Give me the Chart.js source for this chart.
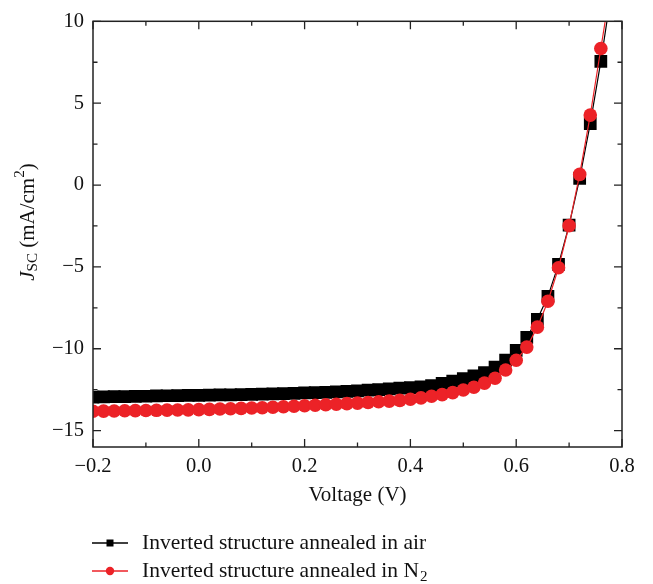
<!DOCTYPE html>
<html>
<head>
<meta charset="utf-8">
<script src="https://cdn.jsdelivr.net/npm/chart.js@4.4.0/dist/chart.umd.min.js"></script>
<style>
    body { margin: 0; background: #fff; }
    #wrap { width: 653px; height: 584px; position: relative; }
</style>
</head>
<body>
<div id="wrap"><canvas id="myChart"></canvas></div>
<script>
// voltage (V)
var voltage = [-0.20, -0.18, -0.16, -0.14, -0.12, -0.10, -0.08, -0.06, -0.04, -0.02,
    0.00, 0.02, 0.04, 0.06, 0.08, 0.10, 0.12, 0.14, 0.16, 0.18,
    0.20, 0.22, 0.24, 0.26, 0.28, 0.30, 0.32, 0.34, 0.36, 0.38,
    0.40, 0.42, 0.44, 0.46, 0.48, 0.50, 0.52, 0.54, 0.56, 0.58,
    0.60, 0.62, 0.64, 0.66, 0.68, 0.70, 0.72, 0.74, 0.76, 0.78];

// Jsc (mA/cm2), annealed in air
var jscAir = [-12.95, -12.94, -12.93, -12.92, -12.91, -12.90, -12.88, -12.87, -12.86, -12.85,
    -12.84, -12.83, -12.82, -12.81, -12.80, -12.79, -12.77, -12.76, -12.74, -12.72,
    -12.70, -12.68, -12.66, -12.63, -12.60, -12.57, -12.53, -12.49, -12.45, -12.40,
    -12.37, -12.32, -12.25, -12.12, -11.97, -11.82, -11.65, -11.45, -11.12, -10.70,
    -10.10, -9.30, -8.20, -6.80, -4.85, -2.45, 0.40, 3.75, 7.55, 11.8];

// Jsc (mA/cm2), annealed in N2
var jscN2 = [-13.82, -13.81, -13.80, -13.79, -13.78, -13.77, -13.76, -13.75, -13.74, -13.73,
    -13.72, -13.70, -13.68, -13.66, -13.64, -13.62, -13.60, -13.57, -13.54, -13.51,
    -13.48, -13.45, -13.42, -13.39, -13.35, -13.32, -13.28, -13.24, -13.20, -13.15,
    -13.08, -13.00, -12.90, -12.80, -12.68, -12.52, -12.35, -12.10, -11.80, -11.30,
    -10.70, -9.90, -8.68, -7.10, -5.05, -2.48, 0.65, 4.27, 8.34, 12.4];

var xTicks = [-0.2, 0.0, 0.2, 0.4, 0.6, 0.8];
var yTicks = [-15, -10, -5, 0, 5, 10];
var legendLabels = ['Inverted structure annealed in air', 'Inverted structure annealed in N'];

var RED = '#ec2227';
var FONT = '"Liberation Serif", "DejaVu Serif", serif';

function toPoints(xs, ys) {
    return xs.map(function (x, i) { return { x: x, y: ys[i] }; });
}

function fmtMinus(s) {
    return s.replace('-', '\u2212');
}

function isTick(list, v) {
    return list.some(function (t) { return Math.abs(t - v) < 1e-6; });
}

// frame, inward ticks, axis titles, legend
var decorPlugin = {
    id: 'decor',
    afterDraw: function (chart) {
        var ctx = chart.ctx;
        var a = chart.chartArea;
        var xs = chart.scales.x, ys = chart.scales.y;
        ctx.save();
        ctx.strokeStyle = '#222';
        ctx.lineWidth = 1.5;
        ctx.strokeRect(a.left, a.top, a.right - a.left, a.bottom - a.top);

        ctx.lineWidth = 1.3;
        ctx.beginPath();
        for (var v = -0.2; v <= 0.8001; v += 0.1) {
            var px = xs.getPixelForValue(v);
            var len = isTick(xTicks, Math.round(v * 10) / 10) ? 8 : 4.5;
            ctx.moveTo(px, a.bottom); ctx.lineTo(px, a.bottom - len);
            ctx.moveTo(px, a.top); ctx.lineTo(px, a.top + len);
        }
        for (var w = -15; w <= 10.001; w += 2.5) {
            var py = ys.getPixelForValue(w);
            var len2 = isTick(yTicks, w) ? 8 : 4.5;
            ctx.moveTo(a.left, py); ctx.lineTo(a.left + len2, py);
            ctx.moveTo(a.right, py); ctx.lineTo(a.right - len2, py);
        }
        ctx.stroke();

        ctx.fillStyle = '#111';
        ctx.textBaseline = 'middle';

        // x title
        ctx.font = '21px ' + FONT;
        ctx.textAlign = 'center';
        ctx.fillText('Voltage (V)', (a.left + a.right) / 2, 495);

        // y title: J_SC (mA/cm^2)
        ctx.save();
        ctx.translate(28, 222);
        ctx.rotate(-Math.PI / 2);
        var parts = [
            { t: 'J', f: 'italic 21px ' + FONT, dy: 0 },
            { t: 'SC', f: '15px ' + FONT, dy: 5 },
            { t: ' (mA/cm', f: '21px ' + FONT, dy: 0 },
            { t: '2', f: '15px ' + FONT, dy: -8 },
            { t: ')', f: '21px ' + FONT, dy: 0 }
        ];
        var total = 0;
        parts.forEach(function (p) { ctx.font = p.f; p.w = ctx.measureText(p.t).width; total += p.w; });
        var cx = -total / 2;
        ctx.textAlign = 'left';
        parts.forEach(function (p) { ctx.font = p.f; ctx.fillText(p.t, cx, p.dy); cx += p.w; });
        ctx.restore();

        // legend
        var rows = [543, 571];
        var lx0 = 92, lx1 = 128, mx = 110, tx = 142;
        ctx.textAlign = 'left';
        // air
        ctx.strokeStyle = '#000'; ctx.lineWidth = 1.5;
        ctx.beginPath(); ctx.moveTo(lx0, rows[0]); ctx.lineTo(lx1, rows[0]); ctx.stroke();
        ctx.fillStyle = '#000';
        ctx.fillRect(mx - 3.5, rows[0] - 3.5, 7, 7);
        ctx.fillStyle = '#111';
        ctx.font = '21.5px ' + FONT;
        ctx.fillText(legendLabels[0], tx, rows[0]);
        // N2
        ctx.strokeStyle = RED;
        ctx.beginPath(); ctx.moveTo(lx0, rows[1]); ctx.lineTo(lx1, rows[1]); ctx.stroke();
        ctx.fillStyle = RED;
        ctx.beginPath(); ctx.arc(mx, rows[1], 4.2, 0, Math.PI * 2); ctx.fill();
        ctx.fillStyle = '#111';
        ctx.font = '21.5px ' + FONT;
        ctx.fillText(legendLabels[1], tx, rows[1]);
        var nw = ctx.measureText(legendLabels[1]).width;
        ctx.font = '15px ' + FONT;
        ctx.fillText('2', tx + nw + 1, rows[1] + 6);
        ctx.restore();
    }
};

function fixedTicks(list) {
    return function (scale) {
        scale.ticks = list.map(function (v) { return { value: v }; });
    };
}

function renderChart() {
    var ctx = document.getElementById('myChart').getContext('2d');
    var chart = new Chart(ctx, {
        type: 'scatter',
        data: {
            datasets: [{
                label: legendLabels[0],
                data: toPoints(voltage, jscAir),
                showLine: true,
                borderColor: '#000',
                borderWidth: 1.2,
                backgroundColor: '#000',
                pointStyle: 'rect',
                pointRadius: 9,
                pointBorderWidth: 0,
                order: 2
            }, {
                label: legendLabels[1],
                data: toPoints(voltage, jscN2),
                showLine: true,
                borderColor: RED,
                borderWidth: 1.2,
                backgroundColor: RED,
                pointStyle: 'circle',
                pointRadius: 6.8,
                pointBorderWidth: 0,
                order: 1
            }]
        },
        options: {
            responsive: true,
            maintainAspectRatio: false,
            animation: false,
            layout: { padding: { left: 0, top: 17, right: 31, bottom: 0 } },
            plugins: {
                legend: { display: false },
                tooltip: { enabled: false }
            },
            scales: {
                x: {
                    type: 'linear',
                    min: -0.2,
                    max: 0.8,
                    grid: { display: false, drawTicks: false },
                    border: { display: false },
                    afterBuildTicks: fixedTicks(xTicks),
                    ticks: {
                        autoSkip: false,
                        padding: 7,
                        color: '#111',
                        font: { family: FONT, size: 20.5 },
                        callback: function (v) { return fmtMinus(Number(v).toFixed(1)); }
                    },
                    afterFit: function (s) { s.height = 137; }
                },
                y: {
                    min: -16,
                    max: 10,
                    grid: { display: false, drawTicks: false },
                    border: { display: false },
                    afterBuildTicks: fixedTicks(yTicks),
                    ticks: {
                        autoSkip: false,
                        padding: 9,
                        color: '#111',
                        font: { family: FONT, size: 20.5 },
                        callback: function (v) { return fmtMinus(String(v)); }
                    },
                    afterFit: function (s) { s.width = 93; }
                }
            }
        },
        plugins: [decorPlugin]
    });
}

renderChart();
</script>
</body>
</html>
